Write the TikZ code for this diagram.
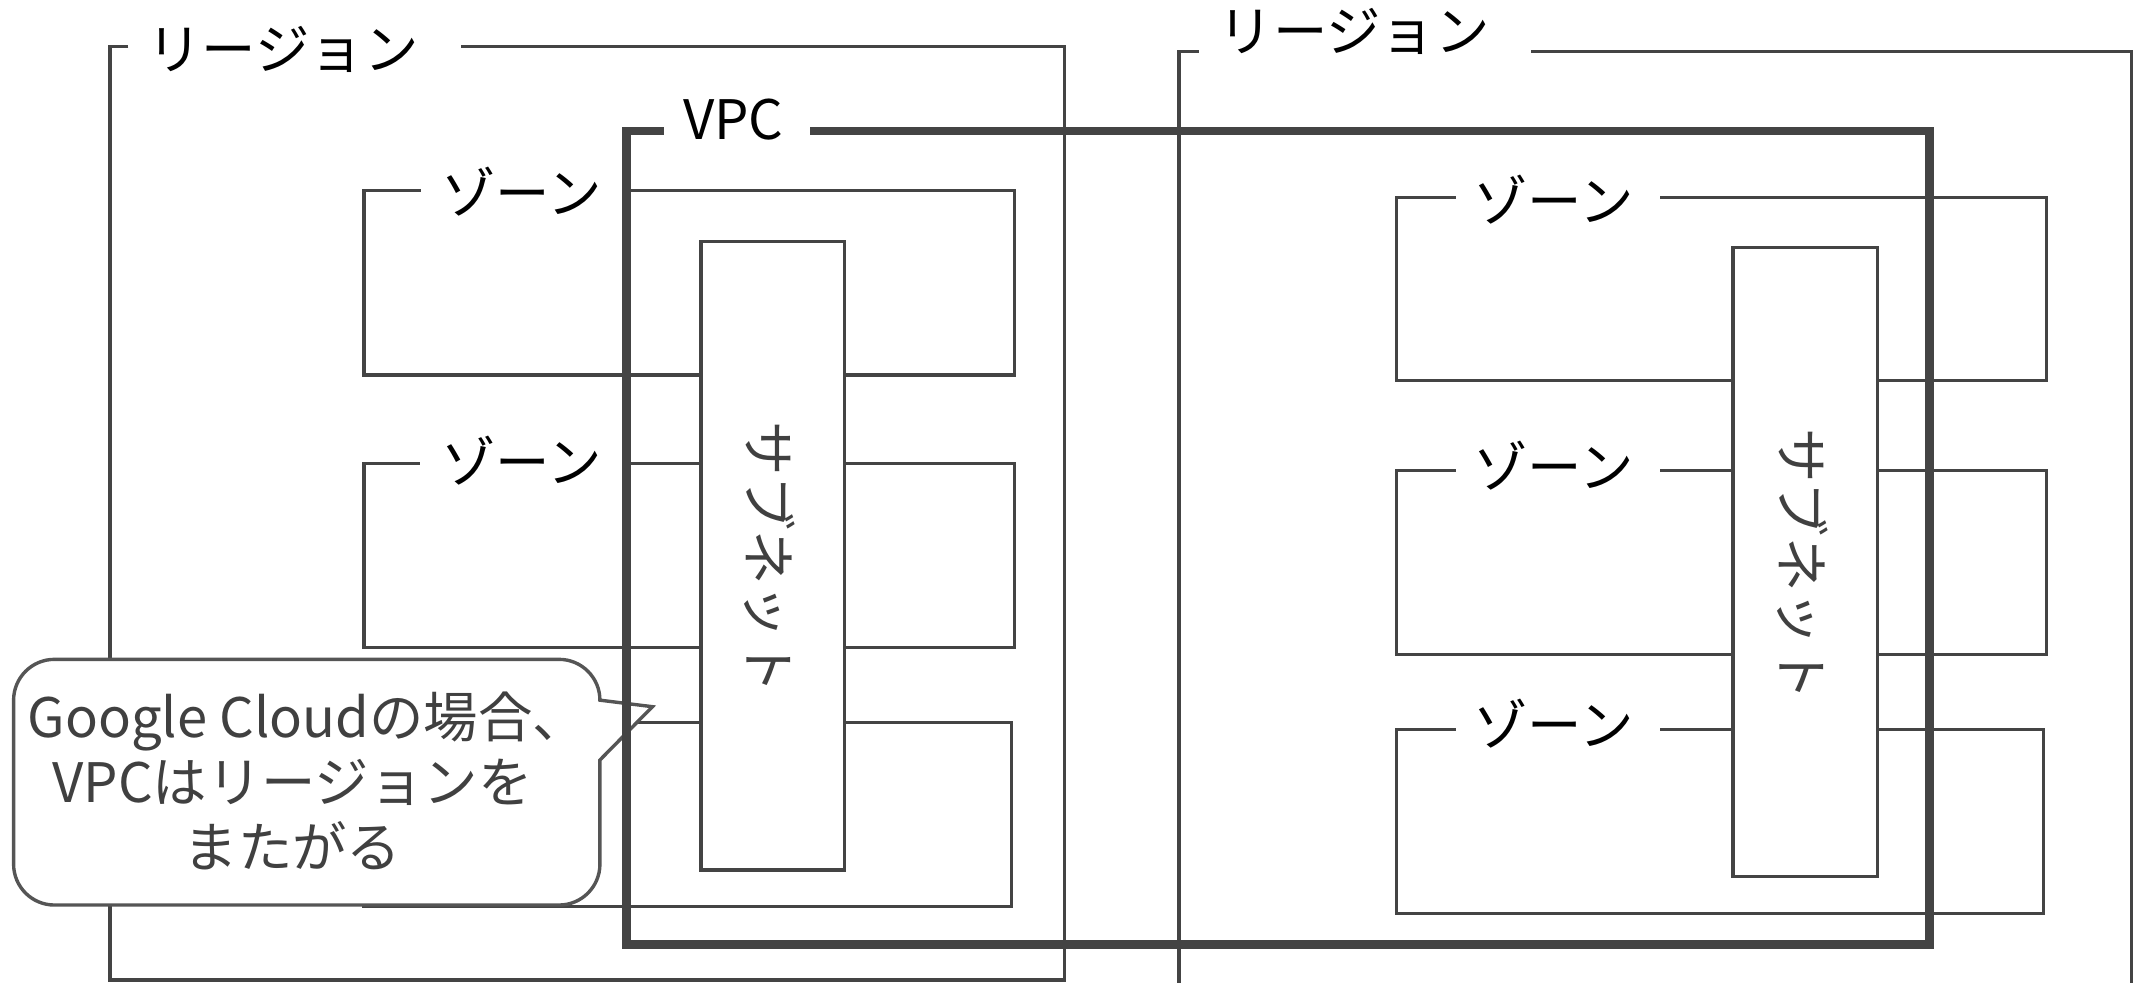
\documentclass[tikz,border=0pt]{standalone}
\usepackage{fontspec}
\setmainfont{Noto Sans CJK JP}
\definecolor{ln}{HTML}{444444}
\definecolor{tx}{HTML}{404040}
\definecolor{cl}{HTML}{555555}
\tikzset{
  boxline/.style={draw=ln, line width=1.25pt},
  vpcline/.style={draw=ln, line width=3.3pt},
  subbox/.style={draw=ln, fill=white, line width=1.25pt},
  lbl/.style={inner sep=0pt, text=black, font=\fontsize{20}{24}\selectfont},
  sublbl/.style={inner sep=0pt, text=tx, rotate=-90, font=\fontsize{20}{24}\selectfont},
  calloutbox/.style={draw=cl, fill=white, line width=1.25pt, line join=miter},
  callouttext/.style={inner sep=0pt, text=tx, align=center, font=\fontsize{20}{23.9}\selectfont},
}
\begin{document}
\begin{tikzpicture}[x=0.5pt,y=-0.5pt]
\useasboundingbox (0,0) rectangle (1568,722);
\clip (0,0) rectangle (1568,722);

% left region
\draw[boxline] (94.4,34.3) -- (81,34.3) -- (81,720.5) -- (782.4,720.5) -- (782.4,34.3) -- (338.8,34.3);
\node[lbl] (reg1) at (208,36) {リージョン};

% right region
\draw[boxline] (881.2,38) -- (866.7,38) -- (866.7,760);
\draw[boxline] (1125.8,38) -- (1566.8,38) -- (1566.8,760);
\node[lbl] (reg2) at (995.5,23) {リージョン};

% left zones
\draw[boxline] (309.4,140.2) -- (267.7,140.2) -- (267.7,275.7) -- (745.7,275.7) -- (745.7,140.2) -- (462.6,140.2);
\node[lbl] (zl1) at (383.5,141) {ゾーン};
\draw[boxline] (308.4,340.7) -- (267.7,340.7) -- (267.7,476.2) -- (745.7,476.2) -- (745.7,340.7) -- (462.6,340.7);
\node[lbl] (zl2) at (383.5,338.5) {ゾーン};
\draw[boxline] (267.7,531.3) rectangle (743.7,666.5);

% right zones
\draw[boxline] (1070,145.1) -- (1026.5,145.1) -- (1026.5,279.9) -- (1504.5,279.9) -- (1504.5,145.1) -- (1220,145.1);
\node[lbl] (zr1) at (1142,147) {ゾーン};
\draw[boxline] (1070,346) -- (1026.5,346) -- (1026.5,481) -- (1504.5,481) -- (1504.5,346) -- (1220,346);
\node[lbl] (zr2) at (1142,342) {ゾーン};
\draw[boxline] (1070,536.2) -- (1026.5,536.2) -- (1026.5,671.5) -- (1502,671.5) -- (1502,536.2) -- (1220,536.2);
\node[lbl] (zr3) at (1142,532) {ゾーン};

% callout
\draw[calloutbox] (441,558.7) -- (441,635.3) arc[start angle=0,end angle=-90,radius=15pt]
  -- (40,665.3) arc[start angle=-90,end angle=-180,radius=15pt]
  -- (10,514.7) arc[start angle=180,end angle=90,radius=15pt]
  -- (411,484.7) arc[start angle=90,end angle=0,radius=15pt]
  -- (479.6,519.5) -- cycle;
\node[callouttext] (note) at (215,574) {\hspace*{11pt}Google Cloudの場合、\\VPCはリージョンを\\またがる};

% VPC
\draw[vpcline] (488,96.3) -- (460.5,96.3) -- (460.5,694) -- (1418.3,694) -- (1418.3,96.3) -- (595.7,96.3);
\node[lbl] (vpc) at (539,88) {VPC};

% subnets
\draw[subbox] (515.2,177.7) rectangle (621,639.6);
\node[sublbl] (sn1) at (566,410) {サブネット};
\draw[subbox] (1274,182) rectangle (1380,644.5);
\node[sublbl] (sn2) at (1325,415) {サブネット};
\end{tikzpicture}
\end{document}
